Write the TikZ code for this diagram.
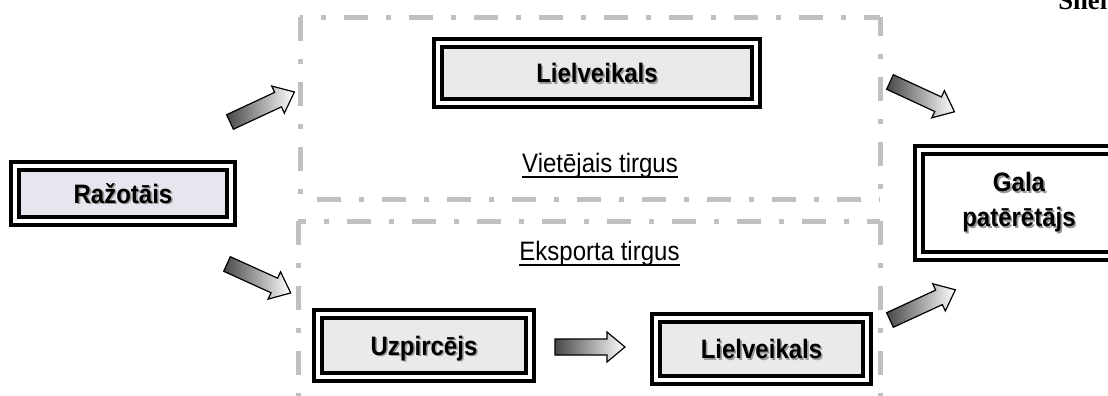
\documentclass[tikz,border=0pt]{standalone}
\usepackage{fontspec}
\usepackage{graphicx}
\setmainfont{Liberation Sans}
\newfontfamily\tnrfont{Liberation Serif}
\definecolor{dashgray}{HTML}{C0C0C0}
\definecolor{boxgray}{HTML}{EAEAEA}
\definecolor{boxlav}{HTML}{E6E6EE}
\definecolor{shadowgray}{HTML}{9A9A9A}
\definecolor{arrowdark}{HTML}{484848}
\newcommand\sqz[1]{\scalebox{0.9}[1]{#1}}
\newcommand\shtxt[1]{\leavevmode\rlap{\kern1.2pt\raisebox{-1.2pt}{\textcolor{shadowgray}{\sqz{#1}}}}\sqz{#1}}
\newcommand\ultxt[1]{\setbox0\hbox{\sqz{#1}}\rlap{\rule[-4.5pt]{\wd0}{1.5pt}}\box0}
\newcommand\blockarrow[3]{%
  \begin{scope}[shift={#1}, rotate=#2]
    \shade[draw=black, line width=0.9pt, left color=arrowdark, right color=white]
      (0,-8) -- ({#3-18},-8) -- ({#3-18},-15) -- (#3,0) -- ({#3-18},15) -- ({#3-18},8) -- (0,8) -- cycle;
  \end{scope}}
\begin{document}
\begin{tikzpicture}[x=0.75pt,y=-0.75pt,
  boxwh/.style 2 args={minimum width=#1*0.75pt, minimum height=#2*0.75pt},
  dbox/.style={draw=black, double=white, line width=3pt, double distance=3pt,
    fill=boxgray, inner sep=0pt, font=\fontsize{20}{23}\selectfont\bfseries},
  oneline/.style={text height=14.3pt, text depth=0pt},
  dashln/.style={draw=dashgray, line width=3.75pt,
    dash pattern=on 18pt off 13.5pt on 3.75pt off 13.5pt},
  lbl/.style={anchor=base, inner sep=0pt, font=\fontsize{20}{23}\selectfont}]
\path[use as bounding box] (0,0) rectangle (1108,396);
\clip (0,0) rectangle (1108,396);

% dashed market frames
\coordinate (ta) at (300,17);  \coordinate (tb) at (880,17);
\coordinate (tc) at (880,199); \coordinate (td) at (300,199);
\coordinate (ba) at (298,221); \coordinate (bb) at (880,221);
\coordinate (bc) at (880,400); \coordinate (bd) at (298,400);
\draw[dashln, dash phase=15.75pt] (ta) -- (tb);
\draw[dashln] (ta) -- (td);
\draw[dashln, dash phase=36pt] (td) -- (tc);
\draw[dashln, dash phase=3.75pt] (tb) -- (tc);
\draw[dashln, dash phase=12pt] (ba) -- (bb);
\draw[dashln] (ba) -- (bd);
\draw[dashln] (bb) -- (bc);

% boxes
\node[dbox, oneline, fill=boxlav, boxwh={215.7}{55}] (raz) at (123,193.5) {\shtxt{Ražotāis}};
\node[dbox, oneline, boxwh={318}{60}] (liel1) at (597,73) {\shtxt{Lielveikals}};
\node[dbox, oneline, boxwh={212}{63}] (uzp) at (424,345.5) {\shtxt{Uzpircējs}};
\node[dbox, oneline, boxwh={211}{62}] (liel2) at (761.5,349) {\shtxt{Lielveikals}};
\node[dbox, fill=white, align=center, font=\fontsize{20}{26.25}\selectfont\bfseries,
      boxwh={200}{106}] (gala) at (1019,203) {\shtxt{Gala}\\\shtxt{patērētājs}};

% market labels
\node[lbl] (vt) at (600,172) {\ultxt{Vietējais tirgus}};
\node[lbl] (et) at (599.5,260) {\ultxt{Eksporta tirgus}};

% title (cut at top edge, as in the reference)
\node[anchor=base west, inner sep=0pt, font=\tnrfont\bfseries\fontsize{20}{24}\selectfont] (title) at (1058,10) {Shēma};

% block arrows
\coordinate (a1) at (230,122);
\coordinate (a2) at (227,264);
\coordinate (a3) at (890,82);
\coordinate (a4) at (890,320);
\coordinate (a5) at (555,347);
\blockarrow{(a1)}{25}{71}
\blockarrow{(a2)}{-24.4}{70}
\blockarrow{(a3)}{-24.8}{71}
\blockarrow{(a4)}{24.8}{72}
\blockarrow{(a5)}{0}{70}
\end{tikzpicture}
\end{document}
